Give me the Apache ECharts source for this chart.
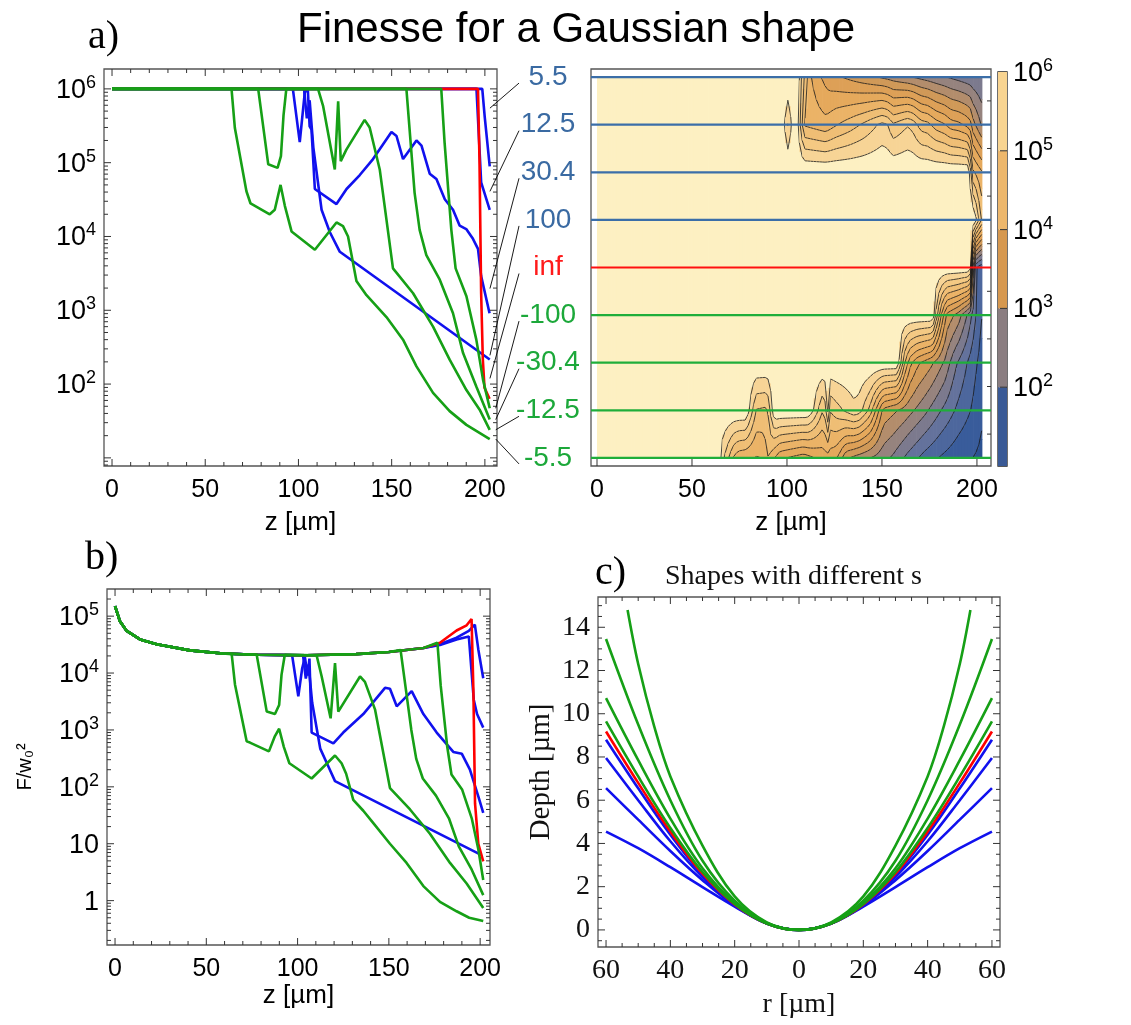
<!DOCTYPE html>
<html lang="en">
<head>
<meta charset="UTF-8">
<title>Finesse for a Gaussian shape</title>
<script src="https://cdn.jsdelivr.net/npm/echarts@6/dist/echarts.min.js"></script>
<style>
  html, body { margin: 0; padding: 0; background: #fff; }
  #chart { width: 1131px; height: 1025px; }
</style>
</head>
<body>
<div id="chart"></div>
<script>
// ---------------- data ----------------
const sLabels = ['5.5', '12.5', '30.4', '100', 'inf', '-100', '-30.4', '-12.5', '-5.5'];
const curveKeys = ['p5_5', 'p12_5', 'p30_4', 'p100', 'inf', 'm100', 'm30_4', 'm12_5', 'm5_5'];

// a) finesse vs z [um]
const finA_p5_5 = [[0, 1e6], [198.6, 1e6], [199.9, 4.2e5], [202.6, 8.9e4]];
const finA_p12_5 = [[0, 1e6], [195.5, 1e6], [198, 5.4e4], [202.6, 2.3e4]];
const finA_p30_4 = [[0, 1e6], [97, 1e6], [100.7, 1.9e5], [103.4, 9e5], [105, 1e6], [106, 3.1e5], [107, 2.8e5],
  [108.8, 4.4e4], [120.4, 2.75e4], [125.8, 4.4e4], [132.9, 6.8e4], [140, 1.12e5], [149.9, 2.6e5], [152.6, 2.3e5],
  [156.1, 1.12e5], [163.3, 2e5], [166, 1.7e5], [170.4, 7.1e4], [174, 6e4], [178.5, 3.2e4], [182.9, 2.3e4],
  [186.5, 1.4e4], [190, 1.26e4], [193.6, 9.3e3], [196.3, 6.8e3], [198, 2.9e3], [202.5, 910]];
const finA_p100 = [[0, 1e6], [103, 1e6], [104.5, 4e5], [106, 7e5], [108, 1.6e5], [112.4, 2.3e4], [116.8, 1.15e4],
  [122.2, 6.2e3], [202.6, 215]];
const finA_inf = [[0, 1e6], [196.3, 1e6], [197.1, 1.1e5], [198, 1.7e3], [198.9, 214], [199.8, 89], [202.5, 63]];
const finA_m100 = [[0, 1e6], [176.6, 1e6], [178.4, 1.86e5], [182, 1.23e4], [184.3, 3.7e3], [190.1, 1.55e3],
  [195.4, 400], [199, 115], [202.6, 47]];
const finA_m30_4 = [[0, 1e6], [157.9, 1e6], [162.3, 3.9e4], [165, 1.23e4], [168.6, 5.6e3], [175.8, 2.6e3],
  [182.9, 910], [188.3, 263], [195.4, 93], [202.6, 33]];
const finA_m12_5 = [[0, 1e6], [78.4, 1e6], [83.8, 9.5e4], [88.8, 8.5e4], [90.6, 1.23e5], [92, 4.4e5], [93.5, 1e6],
  [110.5, 1e6], [113.2, 5.9e5], [119.5, 8.1e4], [121.3, 6.8e5], [122.7, 1.05e5], [125.7, 1.5e5], [135.5, 3.8e5],
  [138.2, 3e5], [143.6, 8.1e4], [150.7, 3.7e3], [161.5, 1.7e3], [172.2, 600], [181.1, 214], [190.1, 83],
  [197.2, 45], [202.6, 24]];
const finA_m5_5 = [[0, 1e6], [64.1, 1e6], [65.9, 2.95e5], [72.1, 4.1e4], [74.3, 2.8e4], [84.6, 2e4], [87.3, 2.3e4],
  [90.4, 5e4], [92.7, 2.6e4], [96.3, 1.17e4], [108.8, 6.6e3], [120.4, 1.55e4], [123.9, 1.38e4], [126.6, 1e4],
  [131.1, 2.5e3], [136.5, 1.6e3], [147.2, 810], [156.1, 400], [163.3, 174], [172.2, 76], [181.1, 43],
  [190.1, 28], [202.6, 18]];

// b) F/w0^2 vs z: common early envelope + the part of each curve after it leaves it
const finB_env = [[0, 1.5e5], [2.7, 8.1e4], [6.4, 5.5e4], [13.7, 3.9e4], [22.8, 3.2e4], [41, 2.5e4], [59, 2.2e4],
  [78, 2.1e4], [105, 2.05e4], [132, 2.15e4], [150, 2.35e4], [169, 2.75e4]];
const finB_p5_5 = [[178, 3.2e4], [187.1, 4.2e4], [193.8, 5.5e4], [197.1, 7.1e4], [199, 2.6e4], [201.7, 8.1e3]];
const finB_p12_5 = [[178, 3.1e4], [187.1, 3.9e4], [193.8, 4.4e4], [196.5, 3.4e3], [198.3, 1.9e3], [201.7, 1.1e3]];
const finB_p30_4 = [[97, 2.05e4], [100.4, 3.9e3], [102.5, 1.2e4], [104, 1.9e4], [105.5, 9e3], [106.5, 1.8e4],
  [107.7, 900], [119.6, 580], [125, 900], [136, 1.9e3], [147.9, 5.5e3], [150.6, 5.3e3], [154.3, 2.6e3],
  [162.5, 4.8e3], [168.9, 1.9e3], [176.2, 900], [185.3, 410], [190, 380], [194.4, 200], [199, 68], [201.7, 35]];
const finB_p100 = [[103, 2.05e4], [104.5, 8e3], [106, 1.4e4], [108, 3e3], [112.4, 470], [116.8, 230],
  [120.5, 126], [200.8, 6.3]];
const finB_inf = [[178, 3.4e4], [187.1, 5.6e4], [192.6, 6.9e4], [195.3, 8.9e4], [196.3, 5.1e3], [197.2, 51],
  [199, 10], [201.7, 4.9]];
const finB_m100 = [[176.6, 3.4e4], [178.4, 6e3], [182, 500], [184.3, 165], [190.1, 90], [195.4, 28], [199, 8],
  [201.7, 2.3]];
const finB_m30_4 = [[156.4, 2.55e4], [162.3, 1e3], [165, 310], [168.6, 140], [175.8, 70], [182.9, 28],
  [188.3, 9], [195.4, 3.5], [201.7, 1.25]];
const finB_m12_5 = [[77.6, 2.1e4], [83.1, 2.1e3], [87.6, 1.9e3], [89.9, 2.75e3], [91.2, 9.3e3], [93, 2.1e4],
  [110.4, 2.05e4], [113.2, 8.7e3], [118.1, 1.6e3], [120.5, 1.5e4], [122.3, 2.1e3], [134.2, 8.7e3],
  [136.9, 7e3], [142.4, 2.3e3], [150.6, 95], [161.6, 40], [172.5, 15], [183.5, 4.6], [192.6, 2], [201.7, 0.74]];
const finB_m5_5 = [[63.9, 2.15e4], [65.7, 6.3e3], [72.1, 630], [73.9, 600], [84.3, 420], [87.6, 780],
  [89.9, 1050], [92.5, 500], [95.5, 260], [107.7, 140], [120.5, 355], [124.1, 260], [126.6, 170], [130.5, 59],
  [136, 38], [141.5, 23], [150.6, 10], [159.7, 4.6], [168.9, 1.8], [178, 0.95], [187.1, 0.65], [194, 0.5],
  [201.7, 0.44]];

// c) depth [um] vs r [um]
const depth_p5_5 = [[-60, 4.55], [-50, 3.78], [-40, 2.9], [-30, 1.98], [-20, 1.08], [-10, 0.3], [0, 0],
  [10, 0.3], [20, 1.08], [30, 1.98], [40, 2.9], [50, 3.78], [60, 4.55]];
const depth_p12_5 = [[-60, 6.56], [-50, 5.1], [-40, 3.65], [-30, 2.3], [-20, 1.12], [-10, 0.3], [0, 0],
  [10, 0.3], [20, 1.12], [30, 2.3], [40, 3.65], [50, 5.1], [60, 6.56]];
const depth_p30_4 = [[-60, 7.95], [-50, 6.0], [-40, 4.1], [-30, 2.45], [-20, 1.15], [-10, 0.3], [0, 0],
  [10, 0.3], [20, 1.15], [30, 2.45], [40, 4.1], [50, 6.0], [60, 7.95]];
const depth_p100 = [[-60, 8.8], [-50, 6.55], [-40, 4.4], [-30, 2.55], [-20, 1.17], [-10, 0.3], [0, 0],
  [10, 0.3], [20, 1.17], [30, 2.55], [40, 4.4], [50, 6.55], [60, 8.8]];
const depth_inf = [[-60, 9.18], [-50, 6.8], [-40, 4.55], [-30, 2.6], [-20, 1.18], [-10, 0.3], [0, 0],
  [10, 0.3], [20, 1.18], [30, 2.6], [40, 4.55], [50, 6.8], [60, 9.18]];
const depth_m100 = [[-60, 9.65], [-50, 7.1], [-40, 4.72], [-30, 2.68], [-20, 1.2], [-10, 0.3], [0, 0],
  [10, 0.3], [20, 1.2], [30, 2.68], [40, 4.72], [50, 7.1], [60, 9.65]];
const depth_m30_4 = [[-60, 10.72], [-50, 7.85], [-40, 5.15], [-30, 2.85], [-20, 1.25], [-10, 0.31], [0, 0],
  [10, 0.31], [20, 1.25], [30, 2.85], [40, 5.15], [50, 7.85], [60, 10.72]];
const depth_m12_5 = [[-60, 13.46], [-50, 9.5], [-40, 6.0], [-30, 3.2], [-20, 1.35], [-10, 0.32], [0, 0],
  [10, 0.32], [20, 1.35], [30, 3.2], [40, 6.0], [50, 9.5], [60, 13.46]];
const depth_m5_5 = [[-53.3, 14.8], [-50, 12.3], [-45, 9.4], [-40, 7.1], [-30, 3.9], [-20, 1.55], [-10, 0.35],
  [0, 0], [10, 0.35], [20, 1.55], [30, 3.9], [40, 7.1], [45, 9.4], [50, 12.3], [53.3, 14.8]];

// contour panel: row order top -> bottom, contour levels (log10 F), colour bar decades
const contourRows = ['p100', 'p30_4', 'p12_5', 'p5_5', 'inf', 'm100', 'm30_4', 'm12_5', 'm5_5'];
const contourLevels = [1.33, 1.67, 2, 2.33, 2.67, 3, 3.33, 3.67, 4, 4.33, 4.67, 5, 5.33, 5.67];
const colorbarEdges = [10, 1e2, 1e3, 1e4, 1e5, 1e6];

// tick positions
const zMajor = [0, 50, 100, 150, 200];
const zMinor = [10, 20, 30, 40, 60, 70, 80, 90, 110, 120, 130, 140, 160, 170, 180, 190];
const decadesA = [10, 1e2, 1e3, 1e4, 1e5, 1e6];
const decadesB = [1, 10, 1e2, 1e3, 1e4, 1e5];
const rMajor = [-60, -40, -20, 0, 20, 40, 60];
const dMajor = [0, 2, 4, 6, 8, 10, 12, 14];

// ---------------- styles ----------------
const SANS = 'Liberation Sans, Arial, sans-serif';
const SERIF = 'Liberation Serif, Times New Roman, serif';
const BLUE = '#1111ee', RED = '#ff0000', GREEN = '#16a016';
const lineColor = {p5_5: BLUE, p12_5: BLUE, p30_4: BLUE, p100: BLUE, inf: RED, m100: GREEN, m30_4: GREEN, m12_5: GREEN, m5_5: GREEN};
const rowLineColor = ['#3b6ea8', '#3b6ea8', '#3b6ea8', '#3b6ea8', '#ff1010', '#1fae3a', '#1fae3a', '#1fae3a', '#1fae3a'];
const rowTextColor = ['#3a6aa2', '#3a6aa2', '#3a6aa2', '#3a6aa2', '#ff1a1a', '#1ca83a', '#1ca83a', '#1ca83a', '#1ca83a'];
const cmapStops = [[1.0, '#264d8e'], [1.6, '#3d5f9e'], [2.2, '#66739c'], [2.7, '#8b7f85'], [3.1, '#ad8b70'],
  [3.5, '#d09958'], [4.0, '#e3a457'], [4.6, '#ecb66a'], [5.2, '#f4ca85'], [5.7, '#f9dba2'], [6.0, '#fdf0c2']];
const colorbarColors = ['#3a5a96', '#8a7d80', '#d6984f', '#edb76c', '#f8d491'];
const FRAME = '#555';
const TICK = '#333';

const finA = {p5_5: finA_p5_5, p12_5: finA_p12_5, p30_4: finA_p30_4, p100: finA_p100, inf: finA_inf,
  m100: finA_m100, m30_4: finA_m30_4, m12_5: finA_m12_5, m5_5: finA_m5_5};
const finBTail = {p5_5: finB_p5_5, p12_5: finB_p12_5, p30_4: finB_p30_4, p100: finB_p100, inf: finB_inf,
  m100: finB_m100, m30_4: finB_m30_4, m12_5: finB_m12_5, m5_5: finB_m5_5};
const depth = {p5_5: depth_p5_5, p12_5: depth_p12_5, p30_4: depth_p30_4, p100: depth_p100, inf: depth_inf,
  m100: depth_m100, m30_4: depth_m30_4, m12_5: depth_m12_5, m5_5: depth_m5_5};

function withEnvelope(tail) {
  return finB_env.filter(p => p[0] < tail[0][0]).concat(tail);
}

// ---------------- helpers ----------------
const powRich = {
  b: {fontFamily: SANS, fontSize: 27, lineHeight: 30, verticalAlign: 'bottom', color: '#000'},
  s: {fontFamily: SANS, fontSize: 18, lineHeight: 15, verticalAlign: 'top', color: '#000'}
};
function powLabel(minExp) {
  return function (v) {
    const l = Math.log10(v), e = Math.round(l);
    if (Math.abs(l - e) > 1e-6 || e < minExp) return '';
    if (e === 0) return '{b|1}';
    if (e === 1) return '{b|10}';
    return '{b|10}{s|' + e + '}';
  };
}
function logMinors(lo, hi) {
  const out = [];
  for (let e = Math.floor(Math.log10(lo)); e <= Math.ceil(Math.log10(hi)); e++) {
    for (let m = 2; m <= 9; m++) {
      const v = m * Math.pow(10, e);
      if (v > lo && v < hi) out.push(v);
    }
  }
  return out;
}
function steps(lo, hi, d, skip) {
  const out = [];
  for (let v = lo; v <= hi + 1e-9; v += d) {
    const r = Math.round(v * 100) / 100;
    if (!skip.some(s => Math.abs(s - r) < 1e-9)) out.push(r);
  }
  return out;
}

function logAt(curve, z) {
  if (z <= curve[0][0]) return Math.log10(curve[0][1]);
  for (let k = 1; k < curve.length; k++) {
    if (z <= curve[k][0]) {
      const t = (z - curve[k - 1][0]) / (curve[k][0] - curve[k - 1][0]);
      return Math.log10(curve[k - 1][1]) * (1 - t) + Math.log10(curve[k][1]) * t;
    }
  }
  return Math.log10(curve[curve.length - 1][1]);
}

function hexRgb(h) { return [1, 3, 5].map(i => parseInt(h.substr(i, 2), 16)); }
function cmap(v) {
  if (v <= cmapStops[0][0]) return cmapStops[0][1];
  for (let k = 1; k < cmapStops.length; k++) {
    if (v <= cmapStops[k][0]) {
      const t = (v - cmapStops[k - 1][0]) / (cmapStops[k][0] - cmapStops[k - 1][0]);
      const a = hexRgb(cmapStops[k - 1][1]), b = hexRgb(cmapStops[k][1]);
      return 'rgb(' + a.map((c, i) => Math.round(c + (b[i] - c) * t)).join(',') + ')';
    }
  }
  return cmapStops[cmapStops.length - 1][1];
}
function bandColor(v) {
  const L = contourLevels;
  if (v >= L[L.length - 1]) return cmapStops[cmapStops.length - 1][1];
  if (v < L[0]) return cmap(L[0] - (L[1] - L[0]) / 2);
  for (let k = 1; k < L.length; k++) {
    if (v < L[k]) return cmap((L[k - 1] + L[k]) / 2);
  }
}

// sampling grid used only to draw the contour between neighbouring rows
const zGrid = [];
for (let z = 0; z <= 202.5 + 1e-9; z += 1.5) zGrid.push(z);
const F = contourRows.map(key => zGrid.map(z => logAt(finA[key], z)));
const cells = [];
for (let i = 0; i < contourRows.length - 1; i++) {
  for (let j = 0; j < zGrid.length - 1; j++) cells.push([zGrid[j], i, j]);
}

// ---------------- axes ----------------
const noLine = {show: false, onZero: false};
function xAx(grid, min, max, extra) {
  return Object.assign({
    type: 'value', gridIndex: grid, min: min, max: max, splitNumber: 4,
    axisLine: noLine, axisTick: {show: false}, splitLine: {show: false},
    axisLabel: {color: '#000', fontFamily: SANS, fontSize: 25, margin: 12, showMinLabel: false, showMaxLabel: false}
  }, extra || {});
}
const zName = {name: 'z [µm]', nameLocation: 'middle', nameTextStyle: {fontFamily: SANS, fontSize: 26, color: '#000'}};

const xA = xAx(0, -4.3, 206.5, Object.assign({nameGap: 44}, zName));
const yA = {type: 'log', logBase: 10, gridIndex: 0, min: 7.76, max: 1.86e6,
  axisLine: noLine, axisTick: {show: false}, splitLine: {show: false},
  axisLabel: {formatter: powLabel(2), rich: powRich, margin: 8, showMinLabel: false, showMaxLabel: false}};
const xC = xAx(1, -3.16, 207.4, Object.assign({nameGap: 44}, zName));
const yC = {type: 'value', gridIndex: 1, min: -0.17, max: 8.17, inverse: true, splitNumber: 8,
  axisLine: noLine, axisTick: {show: false}, splitLine: {show: false},
  axisLabel: {fontFamily: SANS, fontSize: 28, margin: 43, align: 'center', showMinLabel: false, showMaxLabel: false,
    formatter: v => (Math.abs(v - Math.round(v)) < 1e-6 ? sLabels[Math.round(v)] : ''),
    color: v => rowTextColor[Math.max(0, Math.min(8, Math.round(Number(v))))]}};
const xBar = {type: 'value', gridIndex: 2, min: 0, max: 1, show: false};
const yBar = {type: 'log', logBase: 10, gridIndex: 2, min: 10, max: 1e6, position: 'right',
  axisLine: noLine, axisTick: {show: false}, splitLine: {show: false},
  axisLabel: {formatter: powLabel(2), rich: powRich, margin: 6, showMinLabel: false}};
const xB = xAx(3, -4.4, 205.4, Object.assign({nameGap: 38}, zName));
const yB = {type: 'log', logBase: 10, gridIndex: 3, min: 0.166, max: 3.0e5,
  axisLine: noLine, axisTick: {show: false}, splitLine: {show: false},
  axisLabel: {formatter: powLabel(0), rich: powRich, margin: 8, showMinLabel: false, showMaxLabel: false},
  name: 'F/w₀²', nameLocation: 'middle', nameGap: 72, nameRotate: 90,
  nameTextStyle: {fontFamily: SANS, fontSize: 20, color: '#000'}};
const xRc = xAx(4, -62.5, 62.5, {splitNumber: 6,
  axisLabel: {color: '#111', fontFamily: SERIF, fontSize: 28, margin: 10, showMinLabel: false, showMaxLabel: false,
    formatter: v => String(Math.abs(v))},
  name: 'r [µm]', nameLocation: 'middle', nameGap: 44, nameTextStyle: {fontFamily: SERIF, fontSize: 28, color: '#111'}});
const yRc = {type: 'value', gridIndex: 4, min: -0.79, max: 15.4, splitNumber: 8,
  axisLine: noLine, axisTick: {show: false}, splitLine: {show: false},
  axisLabel: {color: '#111', fontFamily: SERIF, fontSize: 28, margin: 8, showMinLabel: false, showMaxLabel: false},
  name: 'Depth [µm]', nameLocation: 'middle', nameGap: 42, nameRotate: 90,
  nameTextStyle: {fontFamily: SERIF, fontSize: 29, color: '#111'}};

// ---------------- series ----------------
const series = [];
curveKeys.forEach(key => {
  series.push({type: 'line', xAxisIndex: 0, yAxisIndex: 0, data: finA[key], showSymbol: false,
    symbol: 'none', lineStyle: {color: lineColor[key], width: 2.6}, z: 3});
  series.push({type: 'line', xAxisIndex: 3, yAxisIndex: 3, data: withEnvelope(finBTail[key]),
    showSymbol: false, symbol: 'none', lineStyle: {color: lineColor[key], width: 2.6}, z: 3});
  series.push({type: 'line', xAxisIndex: 4, yAxisIndex: 4, data: depth[key], showSymbol: false,
    symbol: 'none', smooth: 0.35, lineStyle: {color: lineColor[key], width: 2.6}, z: 3});
});

// frame ticks (inward): [x, y, kind, length]
function tickSeries(axisIdx, xMajor, xMinor, yMajor, yMinor, xRef, yRef, sides) {
  const data = [];
  xMajor.forEach(v => data.push([v, yRef, 0, 7]));
  xMinor.forEach(v => data.push([v, yRef, 0, 4]));
  yMajor.forEach(v => data.push([xRef, v, 1, 7]));
  yMinor.forEach(v => data.push([xRef, v, 1, 4]));
  return {
    type: 'custom', xAxisIndex: axisIdx, yAxisIndex: axisIdx, data: data, clip: false, z: 6, silent: true,
    encode: {x: 0, y: 1},
    renderItem: function (params, api) {
      const cs = params.coordSys, p = api.coord([api.value(0), api.value(1)]);
      const len = api.value(3), st = {stroke: TICK, lineWidth: 1};
      const ch = [];
      if (api.value(2) === 0) {
        if (sides.indexOf('b') >= 0) ch.push({type: 'line', shape: {x1: p[0], y1: cs.y + cs.height, x2: p[0], y2: cs.y + cs.height - len}, style: st});
        if (sides.indexOf('t') >= 0) ch.push({type: 'line', shape: {x1: p[0], y1: cs.y, x2: p[0], y2: cs.y + len}, style: st});
      } else {
        if (sides.indexOf('l') >= 0) ch.push({type: 'line', shape: {x1: cs.x, y1: p[1], x2: cs.x + len, y2: p[1]}, style: st});
        if (sides.indexOf('r') >= 0) ch.push({type: 'line', shape: {x1: cs.x + cs.width, y1: p[1], x2: cs.x + cs.width - len, y2: p[1]}, style: st});
      }
      return {type: 'group', children: ch};
    }
  };
}
series.push(tickSeries(0, zMajor, zMinor, decadesA, logMinors(7.76, 1.86e6), 0, 1e3, 'btlr'));
series.push(tickSeries(3, zMajor, zMinor, decadesB, logMinors(0.166, 3e5), 0, 10, 'btlr'));
series.push(tickSeries(4, rMajor, steps(-60, 60, 5, rMajor), dMajor, steps(-0.5, 15, 0.5, dMajor), 0, 0, 'btlr'));
series.push(tickSeries(1, zMajor, [], [], [0.5, 1.5, 2.5, 3.5, 4.5, 5.5, 6.5, 7.5], 0, 0, 'br'));

// contour fill + contour lines
series.push({
  type: 'custom', xAxisIndex: 1, yAxisIndex: 1, data: cells, clip: true, z: 1, silent: true,
  encode: {x: 0, y: 1},
  renderItem: function (params, api) {
    const i = api.value(1), j = api.value(2);
    const p0 = api.coord([zGrid[j], i]);
    const p1 = api.coord([zGrid[j + 1], i + 1]);
    const x0 = p0[0], y0 = p0[1], x1 = p1[0], y1 = p1[1];
    const vTL = F[i][j], vTR = F[i][j + 1], vBL = F[i + 1][j], vBR = F[i + 1][j + 1];
    const a = (vTL + vTR) / 2, b = (vBL + vBR) / 2;
    const ts = [0];
    contourLevels.forEach(L => { if ((a < L) !== (b < L)) ts.push((L - a) / (b - a)); });
    ts.push(1);
    ts.sort((p, q) => p - q);
    const children = [];
    for (let k = 0; k < ts.length - 1; k++) {
      const v = a + (b - a) * (ts[k] + ts[k + 1]) / 2;
      children.push({type: 'rect', shape: {x: x0, y: y0 + (y1 - y0) * ts[k], width: x1 - x0 + 0.7,
        height: (y1 - y0) * (ts[k + 1] - ts[k]) + 0.7}, style: {fill: bandColor(v)}});
    }
    contourLevels.forEach(L => {
      const pts = [];
      const edge = (va, vb, xa, ya, xb, yb) => {
        if ((va < L) !== (vb < L)) {
          const t = (L - va) / (vb - va);
          pts.push([xa + (xb - xa) * t, ya + (yb - ya) * t]);
        }
      };
      edge(vTL, vTR, x0, y0, x1, y0);
      edge(vTR, vBR, x1, y0, x1, y1);
      edge(vBR, vBL, x1, y1, x0, y1);
      edge(vBL, vTL, x0, y1, x0, y0);
      for (let k = 0; k + 1 < pts.length; k += 2) {
        children.push({type: 'line', shape: {x1: pts[k][0], y1: pts[k][1], x2: pts[k + 1][0], y2: pts[k + 1][1]},
          style: {stroke: '#1a1a1a', lineWidth: 0.8}});
      }
    });
    return {type: 'group', children: children};
  }
});
// horizontal lines marking the nine s values
series.push({
  type: 'custom', xAxisIndex: 1, yAxisIndex: 1, data: contourRows.map((k, i) => [0, i]), z: 4, silent: true,
  encode: {x: 0, y: 1},
  renderItem: function (params, api) {
    const y = api.coord([0, api.value(1)])[1];
    const cs = params.coordSys;
    return {type: 'line', shape: {x1: cs.x, y1: y, x2: cs.x + cs.width, y2: y},
      style: {stroke: rowLineColor[api.value(1)], lineWidth: 2.2}};
  }
});
// colour bar
series.push({
  type: 'custom', xAxisIndex: 2, yAxisIndex: 2, z: 2, silent: true,
  data: colorbarEdges.slice(0, -1).map((lo, k) => [lo, colorbarEdges[k + 1], k]),
  encode: {y: [0, 1]},
  renderItem: function (params, api) {
    const top = api.coord([0, api.value(1)]);
    const bot = api.coord([1, api.value(0)]);
    return {type: 'rect', shape: {x: top[0], y: top[1], width: bot[0] - top[0], height: bot[1] - top[1]},
      style: {fill: colorbarColors[api.value(2)]}};
  }
});
series.push(tickSeries(2, [], [], colorbarEdges.slice(1, -1), [], 0, 1e3, 'r'));

const gridStyle = {show: true, borderColor: FRAME, borderWidth: 1.3, backgroundColor: 'transparent'};
const option = {
  animation: false,
  backgroundColor: '#fff',
  title: [
    {text: 'Finesse for a Gaussian shape', left: 571, top: 4, textAlign: 'center',
      textStyle: {fontFamily: SANS, fontSize: 42, fontWeight: 'normal', color: '#000'}},
    {text: 'a)', left: 83, top: 12, textStyle: {fontFamily: SERIF, fontSize: 40, fontWeight: 'normal', color: '#000'}},
    {text: 'b)', left: 80, top: 533, textStyle: {fontFamily: SERIF, fontSize: 40, fontWeight: 'normal', color: '#000'}},
    {text: 'c)', left: 590, top: 548, textStyle: {fontFamily: SERIF, fontSize: 40, fontWeight: 'normal', color: '#000'}},
    {text: 'Shapes with different s', left: 660, top: 558,
      textStyle: {fontFamily: SERIF, fontSize: 28, fontWeight: 'normal', color: '#111'}}
  ],
  grid: [
    Object.assign({left: 104, top: 69, width: 393, height: 397}, gridStyle),
    Object.assign({left: 591, top: 69, width: 400, height: 397}, gridStyle),
    Object.assign({left: 998, top: 72, width: 9, height: 394}, gridStyle, {borderColor: '#222'}),
    Object.assign({left: 107, top: 589, width: 383, height: 356}, gridStyle),
    Object.assign({left: 598, top: 597, width: 402, height: 350}, gridStyle)
  ],
  xAxis: [xA, xC, xBar, xB, xRc],
  yAxis: [yA, yC, yBar, yB, yRc],
  series: series
};

const chart = echarts.init(document.getElementById('chart'), null, {renderer: 'canvas'});
chart.setOption(option);

// leader lines from the row labels to the curve ends in panel a
const leaderZ = [199.5, 199.5, 199.5, 199.5, 199.5, null, null, null, null];
const graphics = [];
curveKeys.forEach((key, k) => {
  const c = finA[key];
  const z = leaderZ[k] === null ? c[c.length - 1][0] : leaderZ[k];
  const p = chart.convertToPixel({gridIndex: 0}, [z, Math.pow(10, logAt(c, z))]);
  const yl = chart.convertToPixel({gridIndex: 1}, [0, k])[1];
  graphics.push({type: 'line', shape: {x1: p[0] + 6, y1: p[1], x2: 519, y2: yl + 6},
    style: {stroke: '#000', lineWidth: 0.9}, z: 10});
});
chart.setOption({graphic: graphics});
</script>
</body>
</html>
